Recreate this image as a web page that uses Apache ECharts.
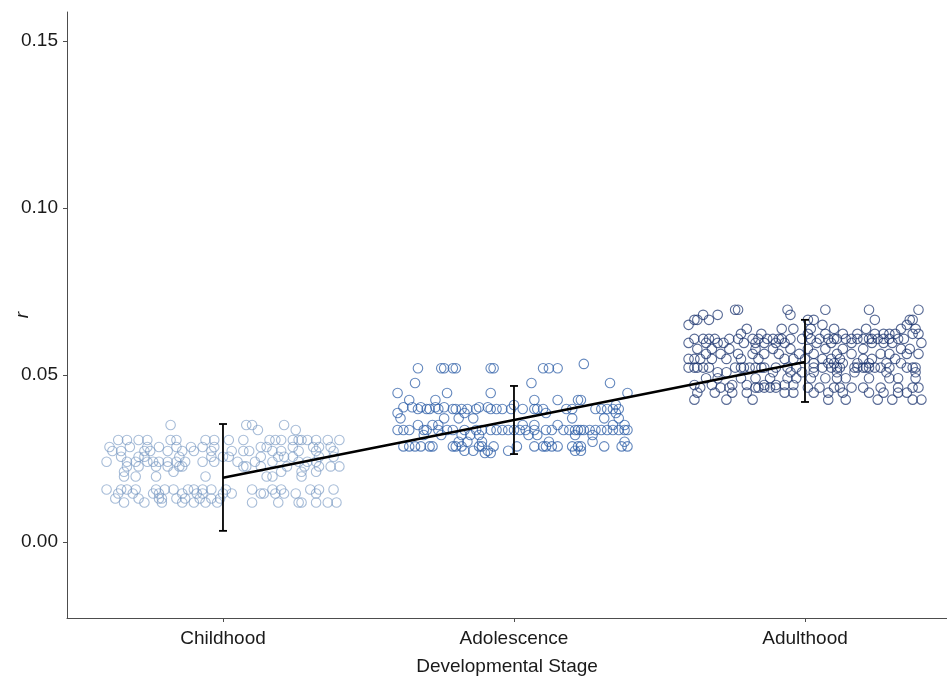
<!DOCTYPE html>
<html>
<head>
<meta charset="utf-8">
<script src="https://cdn.jsdelivr.net/npm/echarts@6/dist/echarts.min.js"></script>
<style>
  html, body { margin: 0; padding: 0; background: #fff; }
  #plot { width: 947px; height: 679px; }
</style>
</head>
<body>
<div id="plot"></div>
<script>
// stages on the x axis
var stages = ['Childhood', 'Adolescence', 'Adulthood'];

// group mean of r and error bar limits
var means = [0.0192, 0.0365, 0.0539];
var lowers = [0.0033, 0.0263, 0.0419];
var uppers = [0.0353, 0.0467, 0.0665];

// y ticks
var yTicks = [0, 0.05, 0.10, 0.15];

// raw points, grouped by row: [r, [jitter offsets from the stage centre]]
var childhoodRows = [
  [0.0350, [-0.18, 0.08, 0.10, 0.21]],
  [0.0335, [0.12, 0.25]],
  [0.0305, [-0.36, -0.33, -0.29, -0.26, -0.18, -0.16, -0.06, -0.03, 0.02, 0.07, 0.16, 0.18, 0.20, 0.24, 0.26, 0.27, 0.29, 0.32, 0.36, 0.40]],
  [0.0284, [-0.39, -0.32, -0.26, -0.22, -0.16, -0.11, -0.07, -0.03, 0.13, 0.15, 0.24, 0.31, 0.33, 0.37]],
  [0.0272, [-0.38, -0.35, -0.27, -0.25, -0.19, -0.14, -0.10, -0.04, 0.03, 0.07, 0.09, 0.17, 0.20, 0.26, 0.32, 0.38]],
  [0.0255, [-0.35, -0.29, -0.27, -0.15, -0.04, 0.00, 0.02, 0.13, 0.19, 0.21, 0.24, 0.33, 0.38]],
  [0.0240, [-0.40, -0.33, -0.30, -0.26, -0.24, -0.22, -0.19, -0.16, -0.13, -0.07, -0.03, 0.05, 0.11, 0.17, 0.26, 0.29, 0.32]],
  [0.0226, [-0.33, -0.29, -0.23, -0.19, -0.15, -0.14, 0.07, 0.08, 0.13, 0.22, 0.28, 0.33, 0.37, 0.40]],
  [0.0210, [-0.34, -0.17, 0.20, 0.27, 0.32]],
  [0.0196, [-0.34, -0.30, -0.23, -0.06, 0.15, 0.17, 0.27]],
  [0.0157, [-0.40, -0.35, -0.33, -0.30, -0.23, -0.20, -0.17, -0.12, -0.10, -0.07, -0.04, 0.01, 0.10, 0.17, 0.20, 0.30, 0.33, 0.38]],
  [0.0145, [-0.36, -0.31, -0.24, -0.22, -0.14, -0.09, -0.07, 0.00, 0.03, 0.13, 0.14, 0.18, 0.21, 0.25, 0.32]],
  [0.0130, [-0.37, -0.29, -0.22, -0.21, -0.16, -0.13, -0.08, -0.04, -0.01]],
  [0.0118, [-0.34, -0.27, -0.21, -0.14, -0.10, -0.06, -0.02, 0.10, 0.19, 0.26, 0.27, 0.32, 0.36, 0.39]]
];

var adolescenceRows = [
  [0.0533, [0.24]],
  [0.0520, [-0.33, -0.25, -0.24, -0.21, -0.20, -0.08, -0.07, 0.10, 0.12, 0.15]],
  [0.0476, [-0.34, 0.06, 0.33]],
  [0.0446, [-0.40, -0.23, -0.08, 0.39]],
  [0.0425, [-0.36, -0.27, 0.07, 0.15, 0.22, 0.23]],
  [0.0410, [0.00, 0.35]],
  [0.0403, [-0.38, -0.35, -0.32, -0.27, -0.24, -0.12, -0.09]],
  [0.0398, [-0.33, -0.30, -0.29, -0.26, -0.21, -0.20, -0.18, -0.16, -0.13, -0.08, -0.06, -0.04, -0.01, 0.03, 0.07, 0.08, 0.10, 0.18, 0.20, 0.28, 0.30, 0.32, 0.34, 0.36]],
  [0.0386, [-0.40, -0.17, 0.11, 0.35]],
  [0.0370, [-0.39, -0.24, -0.19, -0.14, 0.20, 0.31, 0.36]],
  [0.0350, [-0.33, -0.28, -0.26, 0.03, 0.07, 0.15, 0.34, 0.38]],
  [0.0335, [-0.40, -0.38, -0.36, -0.31, -0.30, -0.26, -0.23, -0.21, -0.17, -0.13, -0.11, -0.08, -0.06, -0.04, -0.02, 0.00, 0.02, 0.04, 0.07, 0.11, 0.13, 0.17, 0.19, 0.21, 0.22, 0.23, 0.24, 0.26, 0.28, 0.30, 0.32, 0.34, 0.36, 0.38, 0.39]],
  [0.0320, [-0.31, -0.25, -0.18, -0.15, -0.12, 0.05, 0.08, 0.21, 0.27]],
  [0.0300, [-0.19, -0.16, -0.11, 0.12, 0.27, 0.38]],
  [0.0286, [-0.38, -0.36, -0.34, -0.32, -0.29, -0.28, -0.21, -0.20, -0.18, -0.12, -0.11, -0.07, 0.01, 0.07, 0.10, 0.11, 0.13, 0.15, 0.20, 0.22, 0.23, 0.31, 0.37, 0.39]],
  [0.0273, [-0.17, -0.14, -0.09, -0.02, 0.21, 0.23]],
  [0.0266, [-0.10, -0.08]]
];

var adulthoodRows = [
  [0.0695, [-0.24, -0.23, -0.06, 0.07, 0.22, 0.39]],
  [0.0680, [-0.35, -0.30, -0.05]],
  [0.0665, [-0.38, -0.37, -0.33, 0.01, 0.03, 0.24, 0.36, 0.37]],
  [0.0650, [-0.40, 0.06, 0.35]],
  [0.0638, [-0.20, -0.08, -0.04, 0.02, 0.10, 0.21, 0.33, 0.38]],
  [0.0623, [-0.22, -0.15, 0.01, 0.07, 0.13, 0.18, 0.24, 0.27, 0.29, 0.31, 0.37, 0.39]],
  [0.0608, [-0.38, -0.35, -0.33, -0.31, -0.26, -0.23, -0.18, -0.16, -0.13, -0.11, -0.09, -0.08, -0.05, -0.01, 0.02, 0.05, 0.08, 0.10, 0.11, 0.14, 0.16, 0.18, 0.20, 0.22, 0.23, 0.25, 0.27, 0.29, 0.32, 0.34]],
  [0.0596, [-0.40, -0.34, -0.30, -0.28, -0.21, -0.17, -0.14, -0.10, -0.07, 0.04, 0.09, 0.16, 0.23, 0.27, 0.30, 0.40]],
  [0.0578, [-0.37, -0.32, -0.26, -0.17, -0.11, -0.05, 0.01, 0.07, 0.13, 0.20, 0.33, 0.36]],
  [0.0563, [-0.34, -0.29, -0.23, -0.18, -0.14, -0.09, -0.02, 0.03, 0.11, 0.16, 0.26, 0.29, 0.35, 0.39]],
  [0.0548, [-0.40, -0.38, -0.36, -0.32, -0.27, -0.22, -0.16, -0.07, -0.04, 0.00, 0.06, 0.09, 0.12, 0.20, 0.23, 0.31]],
  [0.0535, [0.03, 0.08, 0.10, 0.13, 0.18, 0.22, 0.28, 0.33]],
  [0.0522, [-0.40, -0.38, -0.37, -0.35, -0.33, -0.24, -0.22, -0.21, -0.19, -0.17, -0.15, -0.14, -0.10, -0.06, -0.03, 0.03, 0.06, 0.09, 0.11, 0.12, 0.17, 0.18, 0.20, 0.21, 0.22, 0.24, 0.26, 0.29, 0.35, 0.37, 0.38]],
  [0.0508, [-0.30, -0.27, -0.11, -0.05, -0.01, 0.03, 0.11, 0.17, 0.28, 0.38]],
  [0.0490, [-0.34, -0.30, -0.22, -0.17, -0.12, -0.06, -0.03, 0.02, 0.07, 0.11, 0.14, 0.22, 0.29, 0.32, 0.38]],
  [0.0470, [-0.38, -0.32, -0.25, -0.20, -0.14, -0.10, -0.07, -0.04]],
  [0.0462, [-0.36, -0.29, -0.26, -0.17, -0.16, -0.14, -0.12, -0.10, 0.01, 0.05, 0.10, 0.12, 0.16, 0.20, 0.26, 0.32, 0.37, 0.39]],
  [0.0447, [-0.37, -0.31, -0.25, -0.20, -0.07, -0.04, 0.03, 0.08, 0.13, 0.22, 0.27, 0.32, 0.35]],
  [0.0426, [-0.38, -0.27, -0.18, 0.08, 0.14, 0.25, 0.30, 0.37, 0.40]]
];

// turn rows into [x, r] points around each stage centre (1, 2, 3)
function toPoints(rows, centre) {
  var pts = [];
  rows.forEach(function (row) {
    row[1].forEach(function (off) {
      pts.push([centre + off, row[0]]);
    });
  });
  return pts;
}

var myChart = echarts.init(document.getElementById('plot'));

var textColor = '#1a1a1a';
var axisColor = '#4d4d4d';
var font = 'Liberation Sans, Arial, sans-serif';

function pointSeries(name, rows, centre, color) {
  return {
    name: name,
    type: 'scatter',
    data: toPoints(rows, centre),
    symbol: 'circle',
    symbolSize: 9.5,
    itemStyle: { color: 'rgba(255,255,255,0)', borderColor: color, borderWidth: 1.1 },
    silent: true,
    z: 2
  };
}

var option = {
  animation: false,
  backgroundColor: '#fff',
  grid: { left: 67, right: 0, top: 12, bottom: 61, containLabel: false, outerBoundsMode: 'none' },
  xAxis: {
    type: 'value',
    min: 0.464,
    max: 3.488,
    name: 'Developmental Stage',
    nameLocation: 'middle',
    nameGap: 39,
    nameMoveOverlap: false,
    nameTextStyle: { fontSize: 19, color: textColor, fontFamily: font },
    axisLine: { show: true, onZero: false, lineStyle: { color: axisColor, width: 1 } },
    axisTick: { show: true, customValues: [1, 2, 3], length: 4, lineStyle: { color: axisColor } },
    axisLabel: {
      customValues: [1, 2, 3],
      margin: 11,
      fontSize: 19,
      color: textColor,
      fontFamily: font,
      formatter: function (v) { return stages[Math.round(v) - 1]; }
    },
    splitLine: { show: false }
  },
  yAxis: {
    type: 'value',
    min: -0.0228,
    max: 0.1587,
    name: 'r',
    nameLocation: 'middle',
    nameGap: 35,
    nameRotate: 90,
    nameMoveOverlap: false,
    nameTextStyle: { fontSize: 19, fontStyle: 'italic', color: textColor, fontFamily: font },
    axisLine: { show: true, onZero: false, lineStyle: { color: axisColor, width: 1 } },
    axisTick: { show: true, customValues: yTicks, length: 4, lineStyle: { color: axisColor } },
    axisLabel: {
      customValues: yTicks,
      margin: 9,
      fontSize: 19,
      color: textColor,
      fontFamily: font,
      formatter: function (v) { return v.toFixed(2); }
    },
    splitLine: { show: false }
  },
  series: [
    pointSeries('Childhood', childhoodRows, 1, 'rgba(110,145,190,0.75)'),
    pointSeries('Adolescence', adolescenceRows, 2, 'rgba(40,90,165,0.9)'),
    pointSeries('Adulthood', adulthoodRows, 3, 'rgba(25,50,110,0.9)'),
    {
      name: 'mean',
      type: 'line',
      data: means.map(function (m, i) { return [i + 1, m]; }),
      showSymbol: false,
      symbol: 'none',
      lineStyle: { color: '#000', width: 2.5 },
      silent: true,
      z: 5
    },
    {
      name: 'error',
      type: 'custom',
      data: means.map(function (m, i) { return [i + 1, lowers[i], uppers[i]]; }),
      renderItem: function (params, api) {
        var lo = api.coord([api.value(0), api.value(1)]);
        var hi = api.coord([api.value(0), api.value(2)]);
        var cap = 4;
        var style = { stroke: '#000', lineWidth: 1.8 };
        return {
          type: 'group',
          children: [
            { type: 'line', shape: { x1: lo[0], y1: lo[1], x2: hi[0], y2: hi[1] }, style: style },
            { type: 'line', shape: { x1: lo[0] - cap, y1: lo[1], x2: lo[0] + cap, y2: lo[1] }, style: style },
            { type: 'line', shape: { x1: hi[0] - cap, y1: hi[1], x2: hi[0] + cap, y2: hi[1] }, style: style }
          ]
        };
      },
      silent: true,
      z: 6
    }
  ]
};

myChart.setOption(option);
</script>
</body>
</html>
